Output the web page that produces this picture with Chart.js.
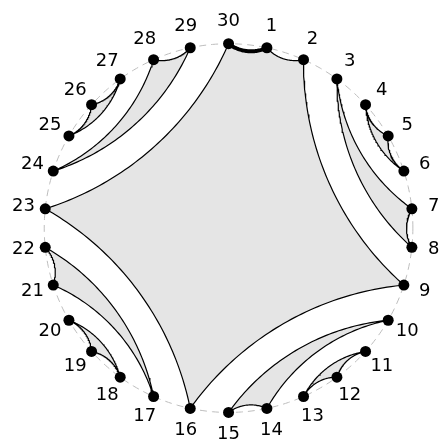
<!DOCTYPE html>
<html>
<head>
<meta charset="utf-8">
<script src="https://cdn.jsdelivr.net/npm/chart.js@4.4.1/dist/chart.umd.min.js"></script>
<style>
  html, body { margin: 0; padding: 0; background: #fff; }
  #wrap { width: 445px; height: 447px; }
</style>
</head>
<body>
<div id="wrap"><canvas id="chart" width="445" height="447"></canvas></div>
<script>
// vertex labels and their positions on the circle (degrees, clockwise from top)
var pointLabels = ['1','2','3','4','5','6','7','8','9','10','11','12','13','14','15',
                   '16','17','18','19','20','21','22','23','24','25','26','27','28','29','30'];
var pointAngles = [12, 24, 36, 48, 60, 72, 84, 96, 108, 120, 132, 144, 156, 168, 180,
                   192, 204, 216, 228, 240, 252, 264, 276, 288, 300, 312, 324, 336, 348, 360];

// blocks of the partition (shaded polygons)
var blocks = [
  [30, 1, 2, 9, 16, 23],
  [3, 7, 8],
  [4, 5, 6],
  [10, 14, 15],
  [11, 12, 13],
  [17, 21, 22],
  [18, 19, 20],
  [24, 28, 29],
  [25, 26, 27]
];
var thickEdge = [30, 1];

// how far an edge bows inward (tangent/chord angle), short edges bow a bit more
function bendFor(a, b) {
  var span = Math.abs(pointAngles[a - 1] - pointAngles[b - 1]);
  if (span > 180) span = 360 - span;
  if (span <= 12) return 31;
  if (span <= 24) return 27;
  return 24.5;
}

function unitPoint(k) {
  var t = (90 - pointAngles[k - 1]) * Math.PI / 180;
  return { x: Math.cos(t), y: Math.sin(t) };
}

// circular arc between two vertices, bulging toward the middle of the disc
function bentEdge(a, b, n) {
  var p = unitPoint(a), q = unitPoint(b);
  var mx = (p.x + q.x) / 2, my = (p.y + q.y) / 2;
  var mlen = Math.sqrt(mx * mx + my * my);
  var nx = -mx / mlen, ny = -my / mlen;
  var half = Math.sqrt((q.x - p.x) * (q.x - p.x) + (q.y - p.y) * (q.y - p.y)) / 2;
  var th = bendFor(a, b) * Math.PI / 180;
  var r = half / Math.sin(th);
  var d = half / Math.tan(th);
  var cx = mx - nx * d, cy = my - ny * d;
  var fp = Math.atan2(p.y - cy, p.x - cx);
  var fq = Math.atan2(q.y - cy, q.x - cx);
  var dd = fq - fp;
  while (dd > Math.PI) dd -= 2 * Math.PI;
  while (dd < -Math.PI) dd += 2 * Math.PI;
  var pts = [];
  for (var j = 0; j <= n; j++) {
    var f = fp + dd * j / n;
    pts.push({ x: cx + r * Math.cos(f), y: cy + r * Math.sin(f) });
  }
  return pts;
}

function polygonPath(block) {
  var pts = [];
  for (var i = 0; i < block.length; i++) {
    var seg = bentEdge(block[i], block[(i + 1) % block.length], 60);
    if (i > 0) seg.shift();
    pts = pts.concat(seg);
  }
  return pts;
}

var circlePts = [];
for (var c = 0; c <= 360; c++) {
  var t = c * Math.PI / 180;
  circlePts.push({ x: Math.cos(t), y: Math.sin(t) });
}

var datasets = [];

datasets.push({
  data: pointLabels.map(function (l, i) { return unitPoint(i + 1); }),
  showLine: false,
  pointRadius: 5.5,
  pointBackgroundColor: '#000',
  pointBorderWidth: 0,
  order: 0
});

datasets.push({
  data: bentEdge(thickEdge[0], thickEdge[1], 40),
  showLine: true,
  borderColor: '#000',
  borderWidth: 4,
  borderCapStyle: 'round',
  pointRadius: 0,
  fill: false,
  order: 1
});

blocks.forEach(function (b) {
  datasets.push({
    data: polygonPath(b),
    showLine: true,
    borderColor: '#000',
    borderWidth: 1.2,
    backgroundColor: '#e5e5e5',
    pointRadius: 0,
    fill: 'shape',
    order: 2
  });
});

datasets.push({
  data: circlePts,
  showLine: true,
  borderColor: '#bdbdbd',
  borderWidth: 1,
  borderDash: [7, 5],
  pointRadius: 0,
  fill: false,
  order: 3
});

var labelPlugin = {
  id: 'vertexLabels',
  afterDatasetsDraw: function (chart) {
    var ctx = chart.ctx, xs = chart.scales.x, ys = chart.scales.y;
    ctx.save();
    ctx.fillStyle = '#000';
    ctx.font = '18px "DejaVu Sans"';
    ctx.textAlign = 'center';
    ctx.textBaseline = 'middle';
    pointLabels.forEach(function (lab, i) {
      var p = unitPoint(i + 1);
      ctx.fillText(lab, xs.getPixelForValue(p.x * 1.119), ys.getPixelForValue(p.y * 1.119));
    });
    ctx.restore();
  }
};

new Chart(document.getElementById('chart'), {
  type: 'scatter',
  data: { datasets: datasets },
  options: {
    responsive: false,
    animation: false,
    events: [],
    clip: false,
    layout: { padding: 0 },
    elements: { line: { tension: 0 } },
    plugins: { legend: { display: false }, tooltip: { enabled: false } },
    scales: {
      x: { type: 'linear', display: false, min: -1.2101, max: 1.1444 },
      y: { type: 'linear', display: false, min: -1.1577, max: 1.2074 }
    }
  },
  plugins: [labelPlugin]
});
</script>
</body>
</html>
